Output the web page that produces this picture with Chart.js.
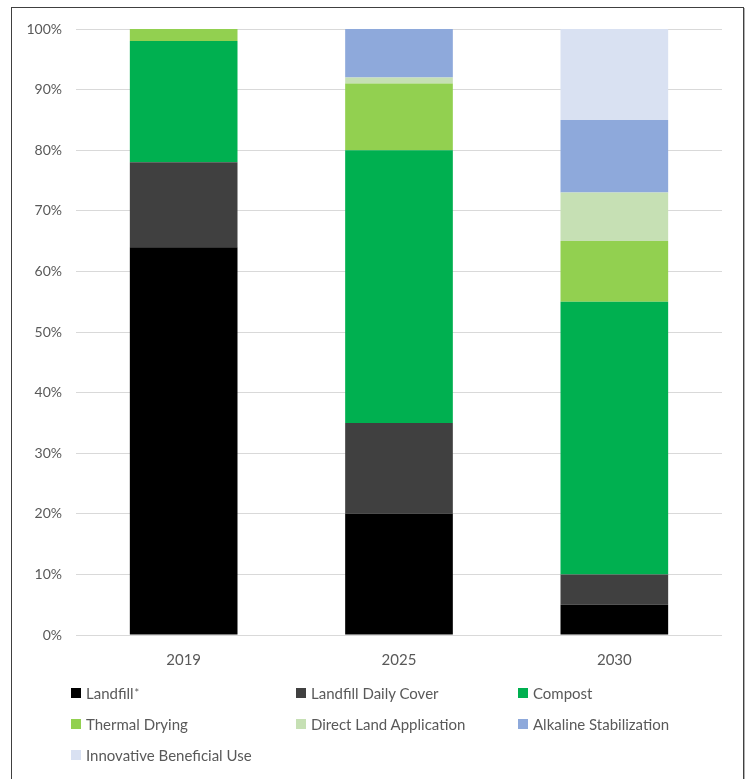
<!DOCTYPE html>
<html>
<head>
<meta charset="utf-8">
<script src="https://cdn.jsdelivr.net/npm/chart.js@4/dist/chart.umd.min.js"></script>
<style>
  html, body { margin: 0; padding: 0; background: #fff; }
  body { width: 747px; height: 779px; position: relative; overflow: hidden; font-family: Lato, "Open Sans", sans-serif; }
  #frame { position: absolute; left: 11px; top: 7px; width: 731px; height: 800px; border: 1px solid #404040; box-shadow: 1px 1px 0 #b0b0b0; }
  #chart { position: absolute; left: 0; top: 0; }
  #legend { position: absolute; left: 71px; top: 678px; display: grid; grid-template-columns: 225px 222px 200px; grid-auto-rows: 30.7px; }
  .item { display: flex; align-items: center; color: #595959; font-size: 15px; white-space: nowrap; }
  .box { width: 10px; height: 10px; margin-right: 5px; flex: none; }
  .item sup { font-size: 11px; vertical-align: 7px; line-height: 0; margin-left: 1px; }
</style>
</head>
<body>
<div id="frame"></div>
<canvas id="chart" width="747" height="680"></canvas>
<div id="legend"></div>
<script>
const years = ['2019', '2025', '2030'];
const seriesNames = ['Landfill', 'Landfill Daily Cover', 'Compost', 'Thermal Drying',
  'Direct Land Application', 'Alkaline Stabilization', 'Innovative Beneficial Use'];
const seriesColors = ['#000000', '#404040', '#00B050', '#92D050', '#C6E0B4', '#8EA9DB', '#D9E1F2'];

// share of biosolids per year, percent
const landfill    = [64, 20, 5];
const dailyCover  = [14, 15, 5];
const compost     = [20, 45, 45];
const thermal     = [2, 11, 10];
const directLand  = [0, 1, 8];
const alkaline    = [0, 8, 12];
const innovative  = [0, 0, 15];
const yTicks = [0, 10, 20, 30, 40, 50, 60, 70, 80, 90, 100];

const values = [landfill, dailyCover, compost, thermal, directLand, alkaline, innovative];

new Chart(document.getElementById('chart'), {
  type: 'bar',
  data: {
    labels: years,
    datasets: seriesNames.map((name, i) => ({
      label: name,
      data: values[i],
      backgroundColor: seriesColors[i],
      borderWidth: 0,
      barPercentage: 0.5,
      categoryPercentage: 1.0,
    })),
  },
  options: {
    responsive: false,
    devicePixelRatio: 1,
    animation: false,
    layout: { padding: { top: 29, right: 25, bottom: 0, left: 0 } },
    plugins: { legend: { display: false }, tooltip: { enabled: false } },
    scales: {
      x: {
        stacked: true,
        grid: { display: false, drawTicks: false },
        border: { display: false },
        ticks: { color: '#595959', font: { family: 'Lato', size: 15 }, padding: 16 },
        afterFit: s => { s.height = 45; },
      },
      y: {
        stacked: true,
        min: 0,
        max: 100,
        afterBuildTicks: s => { s.ticks = yTicks.map(v => ({ value: v })); },
        grid: { color: '#d9d9d9', lineWidth: 1, drawTicks: false },
        border: { display: false },
        ticks: { color: '#595959', font: { family: 'Lato', size: 14 }, padding: 14, callback: v => v + '%' },
        afterFit: s => { s.width = 76; },
      },
    },
  },
});

// three-column legend under the plot
const legend = document.getElementById('legend');
seriesNames.forEach((name, i) => {
  const el = document.createElement('div');
  el.className = 'item';
  el.innerHTML = `<span class="box" style="background:${seriesColors[i]}"></span>${name}${i === 0 ? '<sup>*</sup>' : ''}`;
  legend.appendChild(el);
});
</script>
</body>
</html>
